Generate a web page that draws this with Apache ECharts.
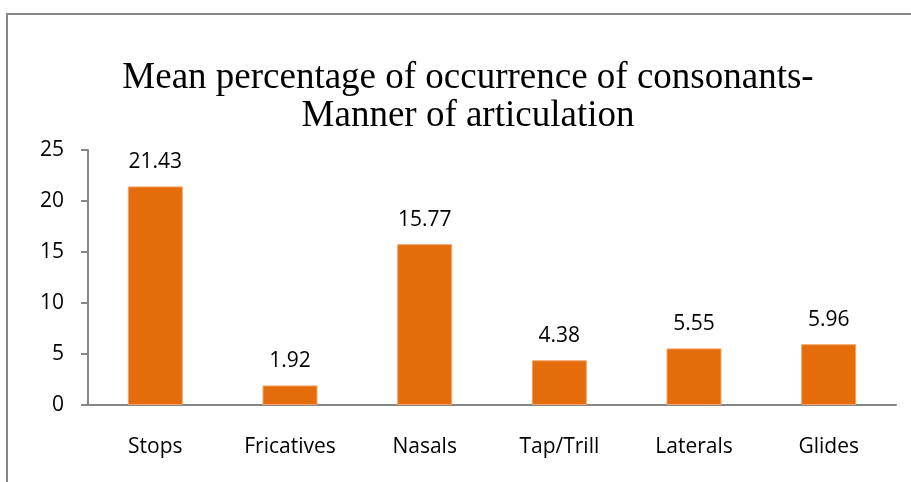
<!DOCTYPE html>
<html>
<head>
<meta charset="utf-8">
<script src="https://cdn.jsdelivr.net/npm/echarts@6/dist/echarts.min.js"></script>
<style>
  html, body { margin: 0; padding: 0; background: #fff; }
  #chart { width: 911px; height: 482px; }
</style>
</head>
<body>
<div id="chart"></div>
<script>
// chart data
var categories = ['Stops', 'Fricatives', 'Nasals', 'Tap/Trill', 'Laterals', 'Glides'];
var meanPercent = [21.43, 1.92, 15.77, 4.38, 5.55, 5.96];
var titleLines = ['Mean percentage of occurrence of consonants-', 'Manner of articulation'];

var chart = echarts.init(document.getElementById('chart'));
var labelFont = '"Open Sans", "Liberation Sans", sans-serif';

chart.setOption({
  animation: false,
  backgroundColor: '#fff',
  title: {
    text: titleLines.join('\n'),
    left: 463,
    textAlign: 'center',
    top: 54,
    textStyle: {
      fontFamily: '"Liberation Serif", "DejaVu Serif", serif',
      fontWeight: 'normal',
      fontSize: 37,
      lineHeight: 38,
      color: '#000'
    }
  },
  graphic: [
    {
      type: 'rect',
      shape: { x: 7, y: 14, width: 920, height: 500 },
      style: { fill: 'none', stroke: '#888', lineWidth: 2 },
      silent: true
    }
  ],
  grid: { left: 88, right: 15, top: 150, bottom: 77, containLabel: false },
  xAxis: {
    type: 'category',
    data: categories,
    axisLine: { lineStyle: { color: '#868686', width: 2 } },
    axisTick: { show: false },
    axisLabel: {
      color: '#000',
      fontSize: 21,
      fontFamily: labelFont,
      margin: 32
    }
  },
  yAxis: {
    type: 'value',
    min: 0,
    max: 25,
    interval: 5,
    axisLine: { show: true, lineStyle: { color: '#868686', width: 2 } },
    axisTick: { show: true, length: 7, lineStyle: { color: '#868686', width: 2 } },
    splitLine: { show: false },
    axisLabel: {
      color: '#000',
      fontSize: 21,
      fontFamily: labelFont,
      margin: 24
    }
  },
  series: [
    {
      type: 'bar',
      data: meanPercent,
      barWidth: 55,
      itemStyle: { color: '#E46C0A', borderColor: '#F4A46A', borderWidth: 1 },
      label: {
        show: true,
        position: 'top',
        distance: 14,
        color: '#000',
        fontSize: 21,
        fontFamily: labelFont,
        formatter: function (p) { return p.value.toFixed(2); }
      }
    }
  ]
});
</script>
</body>
</html>
